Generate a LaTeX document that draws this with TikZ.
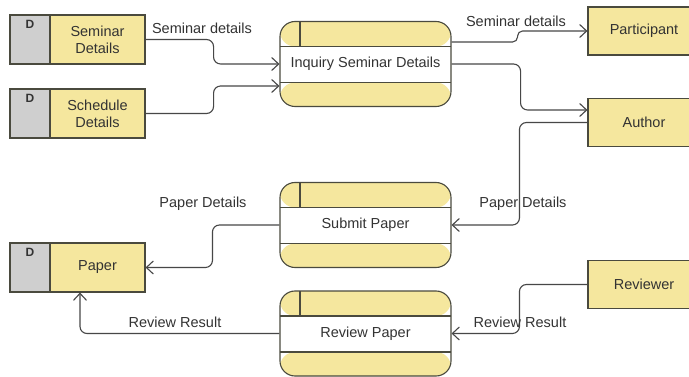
\documentclass[tikz,border=0pt]{standalone}
\usepackage{fontspec}
\setmainfont{Liberation Sans}
\usetikzlibrary{arrows.meta}
\definecolor{yel}{HTML}{F5E79E}
\definecolor{grayc}{HTML}{CFCFCF}
\definecolor{bordc}{HTML}{4A4A3E}
\definecolor{linec}{HTML}{474747}
\definecolor{txtc}{HTML}{333333}
\tikzset{
  every node/.style={font=\fontsize{14.5}{17}\selectfont, text=txtc},
  storebox/.style={draw=bordc, fill=yel, line width=1.1pt, minimum width=95pt, minimum height=49pt, align=center, inner sep=0pt},
  dbox/.style={draw=bordc, fill=grayc, line width=1.1pt, minimum width=40pt, minimum height=49pt, inner sep=0pt},
  dlabel/.style={font=\fontsize{12}{14}\selectfont\bfseries},
  entbox/.style={draw=bordc, fill=yel, line width=1.1pt, minimum width=112pt, minimum height=48pt, inner sep=0pt},
  procbox/.style={draw=bordc, line width=1.1pt, rounded corners=15pt, minimum width=171pt, minimum height=85pt, inner sep=0pt,
    path picture={
      \fill[yel] (path picture bounding box.north west) rectangle ([yshift=-25pt]path picture bounding box.north east);
      \fill[white] ([yshift=-25pt]path picture bounding box.north west) rectangle ([yshift=24pt]path picture bounding box.south east);
      \fill[yel] ([yshift=24pt]path picture bounding box.south west) rectangle (path picture bounding box.south east);
      \draw[bordc, line width=1.1pt] ([yshift=-25pt]path picture bounding box.north west) -- ([yshift=-25pt]path picture bounding box.north east);
      \draw[bordc, line width=1.1pt] ([yshift=24pt]path picture bounding box.south west) -- ([yshift=24pt]path picture bounding box.south east);
      \draw[bordc, line width=1.1pt] ([xshift=20pt]path picture bounding box.north west) -- ([xshift=20pt,yshift=-25pt]path picture bounding box.north west);
    }},
  flow/.style={draw=linec, line width=1.1pt, rounded corners=7pt, -{Straight Barb[length=7pt,width=13pt]}},
  flowlbl/.style={text=txtc, inner sep=1pt},
}
\begin{document}
\begin{tikzpicture}[x=1pt, y=-1pt]
\useasboundingbox (0,0) rectangle (689,377);
\fill[white] (0,0) rectangle (689,377);
\clip (0,0) rectangle (689,377);

% data stores
\node[dbox] (sdD) at (30,39.5) {};
\node[dlabel, anchor=north] (sdDl) at ([yshift=-2pt]sdD.north) {D};
\node[storebox] (sd) at (97.5,39.5) {Seminar\\Details};

\node[dbox] (shD) at (30,113.5) {};
\node[dlabel, anchor=north] (shDl) at ([yshift=-2pt]shD.north) {D};
\node[storebox] (sh) at (97.5,113.5) {Schedule\\Details};

\node[dbox] (paD) at (30,267.5) {};
\node[dlabel, anchor=north] (paDl) at ([yshift=-2pt]paD.north) {D};
\node[storebox] (pa) at (97.5,267.5) {Paper};

% processes
\node[procbox] (inq) at (365.5,64) {Inquiry Seminar Details};
\node[procbox] (sub) at (365.5,225) {Submit Paper};
\node[procbox] (revp) at (365.5,333.5) {Review Paper};

% external entities
\node[entbox] (part) at (644,31) {Participant};
\node[entbox] (auth) at (644,122.5) {Author};
\node[entbox] (rev) at (644,284.5) {Reviewer};

% connectors
\draw[flow] (sd.east) -- ++(68,0) |- (inq.west);
\draw[flow] (sh.east) -- ++(68,0) |- ([yshift=-22pt]inq.west);
\draw[flow, rounded corners=5pt] ([yshift=22pt]inq.east) -- ++(66,0) |- (part.west);
\draw[flow] (inq.east) -- ++(69,0) |- ([yshift=12.5pt]auth.west);
\draw[flow] (auth.west) -- ++(-68,0) |- (sub.east);
\draw[flow] (sub.west) -- ++(-67,0) |- (pa.east);
\draw[flow] (rev.west) -- ++(-68,0) |- (revp.east);
\draw[flow] (revp.west) -| ([xshift=-17.5pt]pa.south);

% labels
\node[flowlbl] (l1) at (202,28) {Seminar details};
\node[flowlbl] (l2) at (516,21) {Seminar details};
\node[flowlbl] (l3) at (203,204) {Paper Details};
\node[flowlbl] (l4) at (523,204) {Paper Details};
\node[flowlbl] (l5) at (175,322) {Review Result};
\node[flowlbl] (l6) at (520,322) {Review Result};
\end{tikzpicture}
\end{document}
